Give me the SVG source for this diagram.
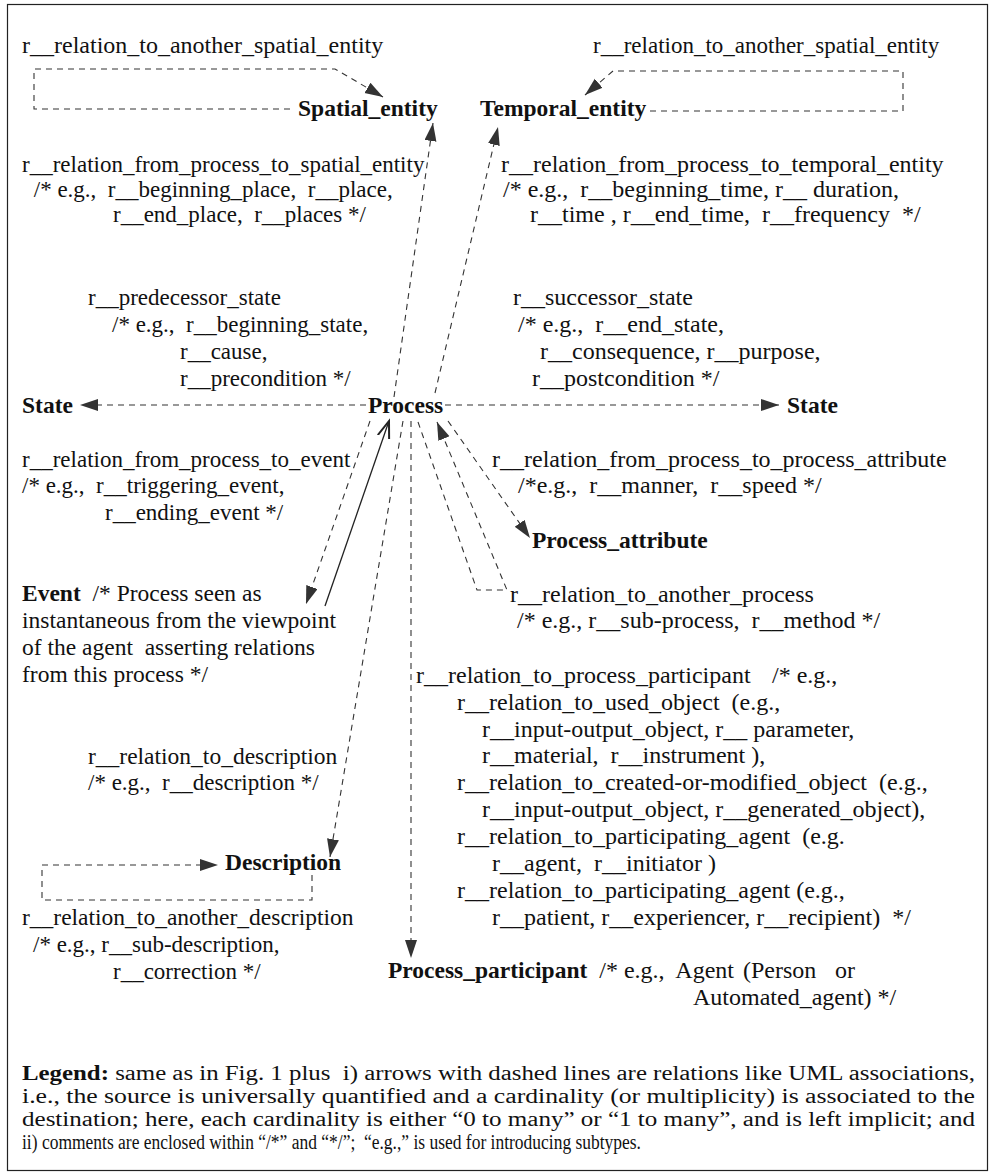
<svg xmlns="http://www.w3.org/2000/svg" width="995" height="1175" viewBox="0 0 995 1175">
<style>
text{font-family:"Liberation Serif","Times New Roman",serif;font-size:23px;fill:#111;white-space:pre}
.r{font-size:24px}
.m{font-size:23.5px}
.b{font-weight:bold;font-size:23.5px}
.lg{font-size:20px}
.d{fill:none;stroke:#333;stroke-width:1.1;stroke-dasharray:6,5}
</style>
<defs>
<marker id="ah" markerUnits="userSpaceOnUse" markerWidth="20" markerHeight="14" refX="18" refY="6" orient="auto">
<path d="M0,0 L18,6 L0,12 z" fill="#333"/>
</marker>
<marker id="oa" markerUnits="userSpaceOnUse" markerWidth="20" markerHeight="16" refX="17" refY="7" orient="auto">
<path d="M0,1 L17,7 L0,13" fill="none" stroke="#222" stroke-width="2"/>
</marker>
</defs>
<rect x="7.5" y="4.5" width="980" height="1166" fill="#fff" stroke="#222" stroke-width="1.2"/>

<g id="connectors">
<path class="d" d="M290,109 L34,109 L34,69 L335,69 L383,97" marker-end="url(#ah)"/>
<path class="d" d="M650,111 L903,111 L903,71 L613,71 L585,95" marker-end="url(#ah)"/>
<path class="d" d="M394,397 L433,123" marker-end="url(#ah)"/>
<path class="d" d="M435,393 L498,127" marker-end="url(#ah)"/>
<path class="d" d="M366,405 L80,405" marker-end="url(#ah)"/>
<path class="d" d="M445,405 L779,405" marker-end="url(#ah)"/>
<path class="d" d="M370,421 L306,604" marker-end="url(#ah)"/>
<path d="M325,606 L389,421" fill="none" stroke="#222" stroke-width="1.3" marker-end="url(#oa)"/>
<path class="d" d="M403,421 L330,857" marker-end="url(#ah)"/>
<path class="d" d="M411,421 L411,958" marker-end="url(#ah)"/>
<path class="d" d="M448,421 L530,538" marker-end="url(#ah)"/>
<path class="d" d="M418,422 L477,590 L507,590 L437,422" marker-end="url(#ah)"/>
<path class="d" d="M312,875 L312,900 L42,900 L42,865 L218,865" marker-end="url(#ah)"/>
</g>

<g id="spatial_loop_label"><text class="r" x="22" y="53">r__relation_to_another_spatial_entity</text></g>
<g id="temporal_loop_label"><text x="593" y="53">r__relation_to_another_spatial_entity</text></g>
<g id="Spatial_entity"><text class="b" x="298" y="116">Spatial_entity</text></g>
<g id="Temporal_entity"><text class="b" x="480" y="116">Temporal_entity</text></g>

<g id="spatial_rel">
<text x="22" y="172">r__relation_from_process_to_spatial_entity</text>
<text x="28" y="197"> /* e.g.,  r__beginning_place,  r__place,</text>
<text x="113" y="222">r__end_place,  r__places */</text>
</g>
<g id="temporal_rel">
<text class="r" x="501" y="172">r__relation_from_process_to_temporal_entity</text>
<text class="r" x="503" y="197">/* e.g.,  r__beginning_time, r__ duration,</text>
<text class="r" x="530" y="222">r__time , r__end_time,  r__frequency  */</text>
</g>

<g id="pred_rel">
<text x="88" y="305">r__predecessor_state</text>
<text x="112" y="332">/* e.g.,  r__beginning_state,</text>
<text x="180" y="359">r__cause,</text>
<text x="180" y="386">r__precondition */</text>
</g>
<g id="succ_rel">
<text class="r" x="513" y="305">r__successor_state</text>
<text class="r" x="518" y="332">/* e.g.,  r__end_state,</text>
<text class="r" x="540" y="359">r__consequence, r__purpose,</text>
<text class="r" x="532" y="386">r__postcondition */</text>
</g>

<g id="State_left"><text class="b" x="22" y="413">State</text></g>
<g id="Process"><text class="b" x="368" y="413">Process</text></g>
<g id="State_right"><text class="b" x="787" y="413">State</text></g>

<g id="event_rel">
<text x="22" y="467">r__relation_from_process_to_event</text>
<text x="22" y="493">/* e.g.,  r__triggering_event,</text>
<text x="105" y="520">r__ending_event */</text>
</g>
<g id="attr_rel">
<text class="r" x="492" y="467">r__relation_from_process_to_process_attribute</text>
<text class="r" x="518" y="493">/*e.g.,  r__manner,  r__speed */</text>
</g>
<g id="Process_attribute"><text class="b" x="532" y="548">Process_attribute</text></g>

<g id="Event">
<text class="m" x="22" y="601"><tspan class="b">Event</tspan>  /* Process seen as</text>
<text class="m" x="22" y="628">instantaneous from the viewpoint</text>
<text class="m" x="22" y="655">of the agent  asserting relations</text>
<text class="m" x="22" y="682">from this process */</text>
</g>
<g id="process_rel">
<text class="r" x="510" y="602">r__relation_to_another_process</text>
<text class="r" x="517" y="628">/* e.g., r__sub-process,  r__method */</text>
</g>

<g id="participant_rel">
<text class="r" x="416" y="683">r__relation_to_process_participant<tspan x="772">/* e.g.,</tspan></text>
<text class="r" x="457" y="710">r__relation_to_used_object  (e.g.,</text>
<text class="r" x="482" y="737">r__input-output_object, r__ parameter,</text>
<text class="r" x="482" y="763">r__material,  r__instrument ),</text>
<text class="r" x="457" y="790">r__relation_to_created-or-modified_object  (e.g.,</text>
<text class="r" x="482" y="817">r__input-output_object, r__generated_object),</text>
<text class="r" x="457" y="844">r__relation_to_participating_agent  (e.g.</text>
<text class="r" x="492" y="871">r__agent,  r__initiator )</text>
<text class="r" x="457" y="898">r__relation_to_participating_agent (e.g.,</text>
<text class="r" x="492" y="925">r__patient, r__experiencer, r__recipient)  */</text>
</g>

<g id="desc_rel">
<text class="m" x="88" y="764">r__relation_to_description</text>
<text x="88" y="790">/* e.g.,  r__description */</text>
</g>
<g id="Description"><text class="b" x="225" y="870">Description</text></g>
<g id="desc_loop_label">
<text class="m" x="22" y="925">r__relation_to_another_description</text>
<text x="33" y="952">/* e.g., r__sub-description,</text>
<text x="113" y="979">r__correction */</text>
</g>

<g id="Process_participant">
<text class="r" x="388" y="978"><tspan class="b">Process_participant</tspan>  /* e.g.,  Agent<tspan x="743">(Person</tspan><tspan x="835">or</tspan></text>
<text class="r" x="693" y="1005">Automated_agent) */</text>
</g>

<g id="legend">
<text class="lg" x="22" y="1080" textLength="953" lengthAdjust="spacingAndGlyphs"><tspan font-weight="bold">Legend:</tspan> same as in Fig. 1 plus  i) arrows with dashed lines are relations like UML associations,</text>
<text class="lg" x="22" y="1103" textLength="953" lengthAdjust="spacingAndGlyphs">i.e., the source is universally quantified and a cardinality (or multiplicity) is associated to the</text>
<text class="lg" x="22" y="1126" textLength="953" lengthAdjust="spacingAndGlyphs">destination; here, each cardinality is either “0 to many” or “1 to many”, and is left implicit; and</text>
<text class="lg" x="22" y="1149" textLength="619" lengthAdjust="spacingAndGlyphs">ii) comments are enclosed within “/*” and “*/”;  “e.g.,” is used for introducing subtypes.</text>
</g>
</svg>
